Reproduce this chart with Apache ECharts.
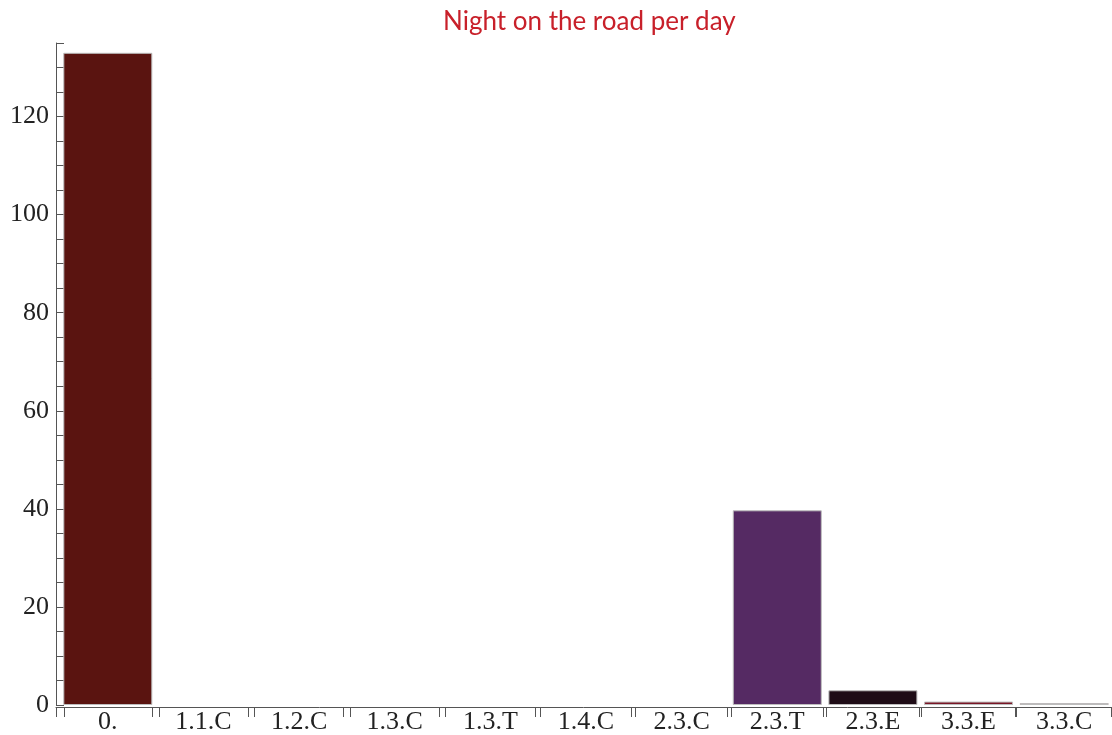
<!DOCTYPE html>
<html>
<head>
<meta charset="utf-8">
<script src="https://cdn.jsdelivr.net/npm/echarts@6/dist/echarts.min.js"></script>
<style>
  html, body { margin: 0; padding: 0; background: #ffffff; }
  #chart { width: 1112px; height: 735px; }
</style>
</head>
<body>
<div id="chart"></div>
<script>
const categories = ['0.', '1.1.C', '1.2.C', '1.3.C', '1.3.T', '1.4.C', '2.3.C', '2.3.T', '2.3.E', '3.3.E', '3.3.C'];
const values = [133, 0, 0, 0, 0, 0, 0, 39.7, 3, 0.7, 0.4];
const yLabelValues = [0, 20, 40, 60, 80, 100, 120];
const titleText = 'Night on the road per day';

const barColors = ['#5a1410', '#5a1410', '#5a1410', '#5a1410', '#5a1410', '#5a1410', '#5a1410', '#552a63', '#1e0c16', '#7a1626', '#a51f2b'];

const chart = echarts.init(document.getElementById('chart'), null, { renderer: 'canvas' });

const serif = 'Liberation Serif';
const hiddenY = { type: 'value', show: false, min: 0, max: 135 };
const tickAxis = (gridIndex, showLine) => ({
  type: 'category',
  gridIndex: gridIndex,
  data: categories,
  boundaryGap: true,
  axisLine: { show: showLine, lineStyle: { color: '#555555', width: 1 } },
  axisTick: { show: true, interval: 0, length: 10, lineStyle: { color: '#555555', width: 1 } },
  axisLabel: { show: false },
  splitLine: { show: false }
});

chart.setOption({
  backgroundColor: '#ffffff',
  animation: false,
  title: {
    text: titleText,
    left: 438,
    top: 4,
    textStyle: { color: '#c8202a', fontFamily: 'Lato', fontWeight: 'normal', fontSize: 26 }
  },
  grid: [
    { left: 60, right: -3, top: 43, bottom: 28, containLabel: false },
    { left: 56, right: 1, top: 43, bottom: 28, containLabel: false },
    { left: 64, right: -7, top: 43, bottom: 28, containLabel: false }
  ],
  xAxis: [
    {
      type: 'category',
      gridIndex: 0,
      data: categories,
      boundaryGap: true,
      axisLine: { show: false },
      axisTick: { show: false },
      axisLabel: { interval: 0, margin: 4, color: '#222222', fontFamily: serif, fontSize: 26 },
      splitLine: { show: false }
    },
    tickAxis(1, true),
    tickAxis(2, false)
  ],
  yAxis: [
    {
      type: 'value',
      gridIndex: 0,
      min: 0,
      max: 135,
      interval: 5,
      offset: 4,
      axisLine: { show: true, lineStyle: { color: '#555555', width: 1 } },
      axisTick: { show: true, inside: true, length: 8, lineStyle: { color: '#555555', width: 1 } },
      axisLabel: {
        margin: 7,
        color: '#222222',
        fontFamily: serif,
        fontSize: 26,
        formatter: (v) => (yLabelValues.indexOf(v) >= 0 ? String(v) : '')
      },
      splitLine: { show: false }
    },
    Object.assign({ gridIndex: 1 }, hiddenY),
    Object.assign({ gridIndex: 2 }, hiddenY)
  ],
  series: [
    {
      type: 'bar',
      xAxisIndex: 0,
      yAxisIndex: 0,
      barWidth: 89,
      data: values.map((v, i) => ({
        value: v,
        itemStyle: { color: barColors[i], borderColor: '#bcbcbc', borderWidth: v > 0 ? 1 : 0 }
      }))
    }
  ]
});
</script>
</body>
</html>
